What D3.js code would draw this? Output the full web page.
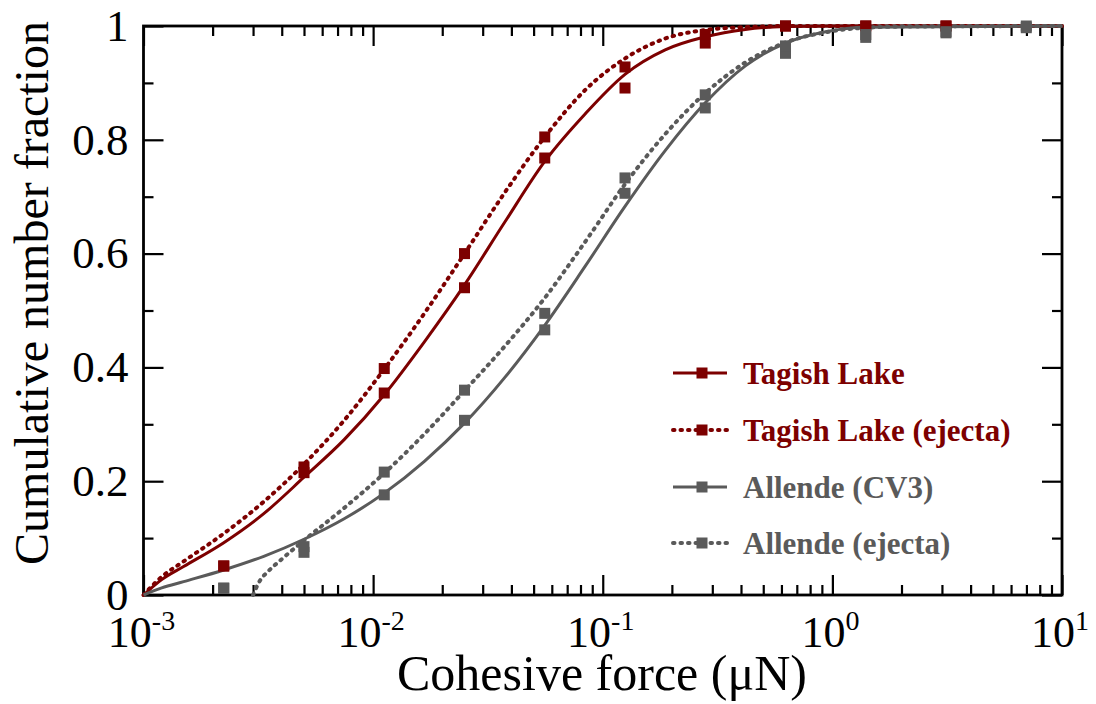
<!DOCTYPE html>
<html>
<head>
<meta charset="utf-8">
<script src="https://cdn.jsdelivr.net/npm/d3@7"></script>
<style>
  html, body { margin: 0; padding: 0; background: #fff; }
  svg { display: block; }
  text { font-family: "Liberation Serif", "Times New Roman", serif; }
</style>
</head>
<body>
<svg id="chart" width="1096" height="704"></svg>
<script>
// Measured sample forces (µN), shared by every series
const forces = [2.236e-3, 5e-3, 1.118e-2, 2.5e-2, 5.59e-2, 0.125, 0.2795, 0.625, 1.3975, 3.125, 6.99];

// Cumulative number fraction at each measured force
const tagishValues   = [0.051, 0.215, 0.355, 0.540, 0.768, 0.891, 0.970, 1.000, 1.000, 1.000];
const tagishEjValues = [0.051, 0.225, 0.398, 0.600, 0.805, 0.928, 0.985, 1.000, 1.000, 1.000];
const allendeValues  = [0.012, 0.085, 0.176, 0.307, 0.466, 0.706, 0.856, 0.952, 0.980, 0.988, 0.997];
const allendeEjValues= [0.012, 0.075, 0.216, 0.360, 0.495, 0.733, 0.879, 0.965, 0.985, 0.990, 1.000];

// Fitted distribution curves (force, fraction)
const fitX         = [1e-3, 1.2e-3, 1.495e-3, 2.236e-3, 3.34e-3, 5e-3, 7.48e-3, 1.118e-2, 1.672e-2, 2.5e-2, 3.74e-2, 5.59e-2, 8.36e-2, 0.125, 0.187, 0.2795, 0.418, 0.625, 1, 10];
const tagishFitY   = [0, 0.027, 0.050, 0.092, 0.143, 0.207, 0.273, 0.352, 0.445, 0.545, 0.655, 0.762, 0.845, 0.915, 0.958, 0.981, 0.994, 0.999, 1, 1];
const tagishEjFitY = [0, 0.032, 0.059, 0.108, 0.164, 0.230, 0.307, 0.397, 0.495, 0.600, 0.707, 0.805, 0.887, 0.943, 0.978, 0.993, 0.998, 1, 1, 1];
const allendeFitX  = [1e-3, 1.2e-3, 1.495e-3, 2.236e-3, 3.34e-3, 5e-3, 7.48e-3, 1.118e-2, 1.672e-2, 2.5e-2, 3.74e-2, 5.59e-2, 8.36e-2, 0.125, 0.187, 0.2795, 0.418, 0.625, 0.935, 1.4, 10];
const allendeFitY  = [0, 0.0125, 0.0235, 0.044, 0.068, 0.098, 0.134, 0.179, 0.235, 0.302, 0.382, 0.474, 0.577, 0.683, 0.781, 0.865, 0.930, 0.970, 0.990, 0.998, 1];
const allendeEjFitX= [3.0e-3, 3.2e-3, 3.5e-3, 4e-3, 5e-3, 7.48e-3, 1.118e-2, 1.672e-2, 2.5e-2, 3.74e-2, 5.59e-2, 8.36e-2, 0.125, 0.187, 0.2795, 0.418, 0.625, 0.935, 1.4, 2.1, 10];
const allendeEjFitY= [0, 0.024, 0.042, 0.063, 0.096, 0.153, 0.214, 0.283, 0.359, 0.437, 0.522, 0.620, 0.722, 0.810, 0.882, 0.936, 0.971, 0.989, 0.997, 0.999, 1];

// Axis ticks and labels
const xMajor = [1e-3, 1e-2, 1e-1, 1, 10];
const xLabelExp = ["-3", "-2", "-1", "0", "1"];
const yMajor = [0, 0.2, 0.4, 0.6, 0.8, 1];
const yLabels = ["0", "0.2", "0.4", "0.6", "0.8", "1"];
const yMinor = [0.1, 0.3, 0.5, 0.7, 0.9];

const seriesNames = ["Tagish Lake", "Tagish Lake (ejecta)", "Allende (CV3)", "Allende (ejecta)"];
const seriesColors = ["#7d0000", "#7d0000", "#5a5a5a", "#5a5a5a"];
const seriesDotted = [false, true, false, true];

const svg = d3.select("#chart");
const plotLeft = 143.5, plotRight = 1062, plotTop = 26, plotBottom = 595;

const x = d3.scaleLog().domain([1e-3, 10]).range([plotLeft, plotRight]);
const y = d3.scaleLinear().domain([0, 1]).range([plotBottom, plotTop]);

// minor log ticks: 2..9 within each decade
const xMinor = [];
for (let d = -3; d < 1; d++) for (let m = 2; m <= 9; m++) xMinor.push(m * Math.pow(10, d));

function styleAxis(g) {
  g.select(".domain").remove();
  g.selectAll(".tick line").attr("stroke", "#000").attr("stroke-width", 2.2);
  g.selectAll(".tick text").remove();
}

// bottom and top axes (ticks point into the plot)
svg.append("g").attr("transform", `translate(0,${plotBottom})`)
  .call(d3.axisBottom(x).tickValues(xMajor).tickSize(-20)).call(styleAxis);
svg.append("g").attr("transform", `translate(0,${plotBottom})`)
  .call(d3.axisBottom(x).tickValues(xMinor).tickSize(-10)).call(styleAxis);
svg.append("g").attr("transform", `translate(0,${plotTop})`)
  .call(d3.axisTop(x).tickValues(xMajor).tickSize(-20)).call(styleAxis);
svg.append("g").attr("transform", `translate(0,${plotTop})`)
  .call(d3.axisTop(x).tickValues(xMinor).tickSize(-10)).call(styleAxis);

// left and right axes
svg.append("g").attr("transform", `translate(${plotLeft},0)`)
  .call(d3.axisLeft(y).tickValues(yMajor).tickSize(-20)).call(styleAxis);
svg.append("g").attr("transform", `translate(${plotLeft},0)`)
  .call(d3.axisLeft(y).tickValues(yMinor).tickSize(-10)).call(styleAxis);
svg.append("g").attr("transform", `translate(${plotRight},0)`)
  .call(d3.axisRight(y).tickValues(yMajor).tickSize(-20)).call(styleAxis);
svg.append("g").attr("transform", `translate(${plotRight},0)`)
  .call(d3.axisRight(y).tickValues(yMinor).tickSize(-10)).call(styleAxis);

// frame
svg.append("rect")
  .attr("x", plotLeft).attr("y", plotTop)
  .attr("width", plotRight - plotLeft).attr("height", plotBottom - plotTop)
  .attr("fill", "none").attr("stroke", "#000").attr("stroke-width", 2.8);

// y tick labels
svg.append("g").selectAll("text").data(yMajor).join("text")
  .attr("x", plotLeft - 15).attr("y", d => y(d))
  .attr("dy", "0.33em")
  .attr("text-anchor", "end")
  .attr("font-size", 45)
  .text((d, i) => yLabels[i]);

// x tick labels with superscript exponents
const xl = svg.append("g").selectAll("text").data(xMajor).join("text")
  .attr("x", d => x(d) - 2).attr("y", 647)
  .attr("text-anchor", "middle")
  .attr("font-size", 44);
xl.append("tspan").text("10");
xl.append("tspan").attr("dy", -17).attr("font-size", 28).text((d, i) => xLabelExp[i]);

// axis titles
svg.append("text")
  .attr("x", 602).attr("y", 690)
  .attr("text-anchor", "middle").attr("font-size", 50)
  .text("Cohesive force (\u03bcN)");
svg.append("text")
  .attr("transform", "translate(48,293) rotate(-90)")
  .attr("text-anchor", "middle").attr("font-size", 48)
  .text("Cumulative number fraction");

// fitted curves
const line = d3.line().x(d => x(d[0])).y(d => y(d[1])).curve(d3.curveMonotoneX);
const fits = [
  d3.zip(fitX, tagishFitY),
  d3.zip(fitX, tagishEjFitY),
  d3.zip(allendeFitX, allendeFitY),
  d3.zip(allendeEjFitX, allendeEjFitY)
];
const values = [tagishValues, tagishEjValues, allendeValues, allendeEjValues];

function strokeStyle(sel, i) {
  sel.attr("stroke", seriesColors[i]).attr("fill", "none");
  if (seriesDotted[i]) {
    sel.attr("stroke-width", 4).attr("stroke-linecap", "round").attr("stroke-dasharray", "1.5 6");
  } else {
    sel.attr("stroke-width", 3);
  }
}

fits.forEach((pts, i) => {
  svg.append("path").datum(pts).attr("d", line).call(strokeStyle, i);
});

// measured points
const ms = 11;
values.forEach((vals, i) => {
  svg.append("g").selectAll("rect").data(vals).join("rect")
    .attr("x", (d, j) => x(forces[j]) - ms / 2)
    .attr("y", d => y(d) - ms / 2)
    .attr("width", ms).attr("height", ms)
    .attr("fill", seriesColors[i]);
});

// legend
const legend = svg.append("g");
const rowY = [373, 430, 487, 543];
seriesNames.forEach((name, i) => {
  const g = legend.append("g").attr("transform", `translate(0,${rowY[i]})`);
  g.append("line").attr("x1", 673).attr("x2", 727).attr("y1", 0).attr("y2", 0).call(strokeStyle, i);
  g.append("rect").attr("x", 702 - 5.5).attr("y", -5.5).attr("width", 11).attr("height", 11).attr("fill", seriesColors[i]);
  g.append("text").attr("x", 743).attr("y", 0).attr("dy", "0.35em")
    .attr("font-size", 31).attr("font-weight", "bold")
    .attr("fill", seriesColors[i]).text(name);
});
</script>
</body>
</html>
